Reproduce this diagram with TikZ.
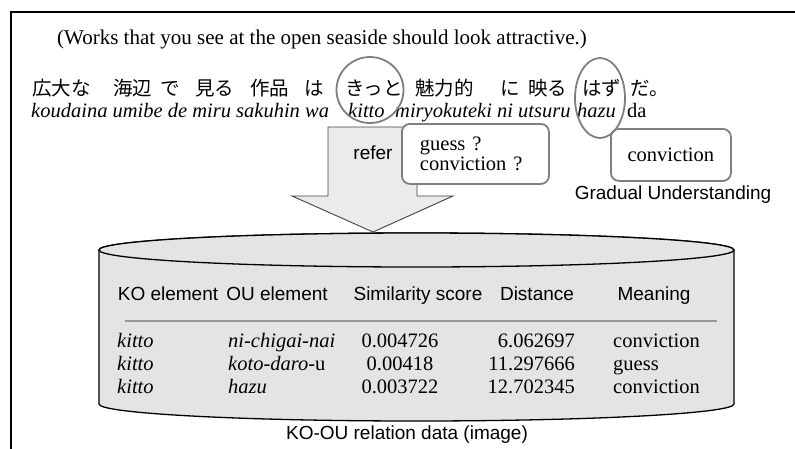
\documentclass[tikz,border=0pt]{standalone}
\usepackage{fontspec}
\setmainfont{Liberation Serif}
\setsansfont{Liberation Sans}
\newfontfamily\jafont{Noto Sans CJK JP}
\usetikzlibrary{shapes.geometric}
\definecolor{dbgray}{HTML}{E4E4E4}
\definecolor{arrowgray}{HTML}{EBEBEB}
\definecolor{ringgray}{HTML}{7F7F7F}
\begin{document}
\begin{tikzpicture}[x=1pt,y=1pt,
  ja/.style={font=\jafont\fontsize{19.5}{20}\selectfont, inner sep=0pt, anchor=base west},
  ro/.style={font=\fontsize{20.5}{22}\selectfont\itshape, inner sep=0pt, anchor=base west},
  cell/.style={font=\fontsize{20.5}{22}\selectfont, inner sep=0pt},
  sans/.style={font=\sffamily\fontsize{19}{21}\selectfont, inner sep=0pt},
  ring/.style={draw=ringgray, line width=1.8pt, ellipse, inner sep=0pt},
  callout/.style={draw=ringgray, fill=white, line width=1.8pt, rounded corners=8pt},
  dbfill/.style={fill=dbgray, draw=black, line width=1.3pt}]
\useasboundingbox (0,0) rectangle (795,-448);
\clip (0,0) rectangle (795,-448);
\draw[line width=2.2pt] (11,-470) -- (11,-12) -- (820,-12);

\node[cell, anchor=base west, font=\fontsize{21}{22}\selectfont] (english) at (57,-44)
  {(Works that you see at the open seaside should look attractive.)};

% japanese sentence and its reading
\node[ja] (koudaina) at (32,-95) {広大な};
\node[ja] (umibe) at (113,-95) {海辺};
\node[ja] (de) at (160,-95) {で};
\node[ja] (miru) at (195,-95) {見る};
\node[ja] (sakuhin) at (250,-95) {作品};
\node[ja] (wa) at (304,-95) {は};
\node[ja] (kitto) at (345,-95) {きっと};
\node[ja] (miryoku) at (415,-95) {魅力的};
\node[ja] (ni) at (500,-95) {に};
\node[ja] (utsuru) at (528,-95) {映る};
\node[ja] (hazu) at (582,-95) {はず};
\node[ja] (da) at (630,-95) {だ。};
\node[ro] (rpre) at (31,-117) {koudaina umibe de miru sakuhin wa};
\node[ro] (rkitto) at (348,-117) {kitto};
\node[ro] (rmid) at (395,-117) {miryokuteki ni utsuru};
\node[ro] (rhazu) at (577,-117) {hazu};
\node[cell, anchor=base west] (rda) at (627,-117) {da};

% reference arrow
\draw[fill=arrowgray, draw=black!75, line width=0.9pt]
  (328,-127) -- (417,-127) -- (417,-196) -- (453,-196) -- (373,-232)
  -- (292,-196) -- (328,-196) -- cycle;
\node[sans] (refer) at (373,-153) {refer};

\node[callout, cell, anchor=north west, text width=111pt, inner xsep=18pt,
  minimum height=60pt, align=left, font=\fontsize{20.5}{20}\selectfont]
  (guessbox) at (401,-123) {guess ?\\conviction ?};
\node[callout, cell, anchor=north west, minimum width=120pt, minimum height=52pt]
  (convbox) at (610,-128) {conviction};
\node[sans] (gradual) at (673,-195) {Gradual Understanding};

\node[ring, minimum width=67pt, minimum height=66pt] (kittoring) at (370,-90) {};
\node[ring, minimum width=50pt, minimum height=80pt] (hazuring) at (600,-98) {};

% database
\draw[dbfill] (99,-250) -- (99,-404)
  arc[start angle=180, end angle=360, x radius=317.5, y radius=17]
  -- (734,-250) arc[start angle=0, end angle=180, x radius=317.5, y radius=17] -- cycle;
\draw[dbfill] (416.5,-250) ellipse[x radius=317.5, y radius=17];

\node[sans, anchor=base] (hko) at (168,-300) {KO element};
\node[sans, anchor=base] (hou) at (277,-300) {OU element};
\node[sans, anchor=base] (hsim) at (418,-300) {Similarity score};
\node[sans, anchor=base] (hdist) at (537,-300) {Distance};
\node[sans, anchor=base] (hmean) at (654,-300) {Meaning};
\draw[black!40, line width=1.5pt] (125,-321) -- (717,-321);

\foreach \ou/\sim/\dist/\mean [count=\i] in
  {\textit{ni-chigai-nai}/0.004726/6.062697/conviction,
   \textit{koto-daro}-u/0.00418/11.297666/guess,
   \textit{hazu}/0.003722/12.702345/conviction}
{
  \node[cell, anchor=base west] (ko\i) at (117,-324-23*\i) {\textit{kitto}};
  \node[cell, anchor=base west] (ou\i) at (228,-324-23*\i) {\ou};
  \node[cell, anchor=base] (sim\i) at (400,-324-23*\i) {\sim};
  \node[cell, anchor=base east] (dist\i) at (575,-324-23*\i) {\dist};
  \node[cell, anchor=base west] (mean\i) at (613,-324-23*\i) {\mean};
}

\node[sans] (caption) at (407,-435) {KO-OU relation data (image)};
\end{tikzpicture}
\end{document}
